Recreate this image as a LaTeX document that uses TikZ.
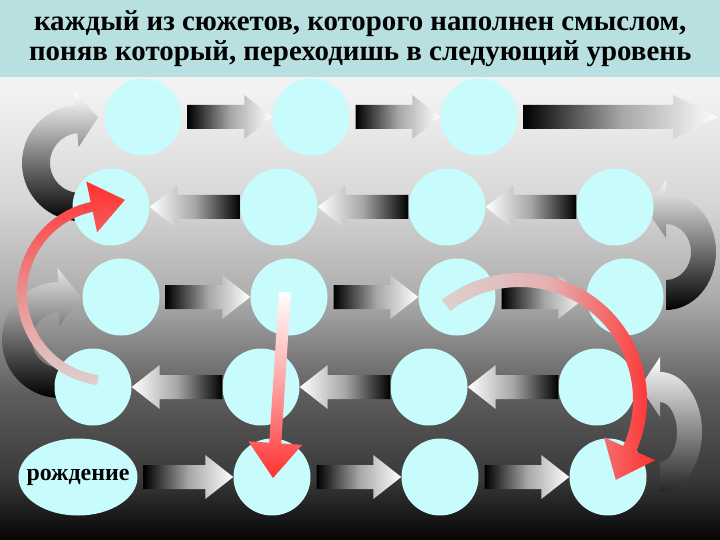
\documentclass[tikz,border=0pt]{standalone}
\usepackage{fontspec}
\setmainfont{Liberation Serif}
\usetikzlibrary{calc,shapes.geometric}
\definecolor{bannerteal}{RGB}{184,224,225}
\definecolor{discfill}{RGB}{200,252,252}
\definecolor{hotred}{RGB}{255,48,48}
\definecolor{palepink}{RGB}{222,208,208}
\pgfdeclareverticalshading{bgfade}{100bp}{color(0bp)=(black!98); color(25bp)=(black!98); color(27bp)=(black!92); color(31.5bp)=(black!78); color(41bp)=(black!63); color(51bp)=(black!33); color(61.5bp)=(black!16); color(73.5bp)=(black!5); color(100bp)=(black!4)}
\tikzset{
    disc/.style = {circle, fill=discfill, minimum size=77bp, inner sep=0pt},
    startoval/.style = {ellipse, fill=discfill, minimum width=119bp, minimum height=77bp, inner sep=0pt},
    bigtext/.style = {font=\bfseries\fontsize{29}{30}\selectfont},
    smalltext/.style = {font=\bfseries\fontsize{24}{28}\selectfont},
    banner/.style = {rectangle, fill=bannerteal, minimum width=720bp, minimum height=77bp, align=center, inner sep=0pt},
    flowr/.style = {left color=black, right color=white, middle color=black!35},
    flowl/.style = {left color=white, right color=black, middle color=black!35},
    redarc/.style = {top color=hotred, bottom color=palepink, middle color=hotred!45!palepink}
}
\newcommand{\flowright}[3][28bp]{%
    \shade[flowr] let \p1=(#2), \p2=(#3) in
        (\x1+6bp,\y1+12bp) -- (\x2-#1,\y1+12bp) -- (\x2-#1,\y1+22bp) -- (\x2,\y1)
        -- (\x2-#1,\y1-22bp) -- (\x2-#1,\y1-12bp) -- (\x1+6bp,\y1-12bp) -- cycle;}
\newcommand{\flowleft}[3][28bp]{%
    \shade[flowl] let \p1=(#2), \p2=(#3) in
        (\x1,\y1+12bp) -- (\x2+#1,\y1+12bp) -- (\x2+#1,\y1+22bp) -- (\x2,\y1)
        -- (\x2+#1,\y1-22bp) -- (\x2+#1,\y1-12bp) -- (\x1,\y1-12bp) -- cycle;}
\begin{document}
\begin{tikzpicture}[x=1bp, y=-1bp, node distance=168bp]
        \useasboundingbox (0,0) rectangle (720,540);
        \shade[shading=bgfade] (0,77) rectangle (720,540);
        \node [banner, bigtext, anchor=north west] (title) at (0,0) {каждый из сюжетов, которого наполнен смыслом,\\ поняв который, переходишь в следующий уровень};
        % return loops
        \coordinate (la) at (80,163);
        \coordinate (lb) at (60,340);
        \coordinate (lc) at (666,252);
        \coordinate (ld) at (660,432);
        \shade[top color=white, bottom color=black] ($(la)+(95:58)$) arc[start angle=95, end angle=265, radius=58] -- ($(la)+(265:72)$) -- ($(la)+(265:44)+(355:22)$) -- ($(la)+(265:16)$) -- ($(la)+(265:30)$) arc[start angle=265, end angle=95, radius=30] -- cycle;
        \shade[top color=black!10, bottom color=black] ($(lb)+(92:58)$) arc[start angle=92, end angle=268, radius=58] -- ($(lb)+(268:72)$) -- ($(lb)+(268:43)+(358:22)$) -- ($(lb)+(268:14)$) -- ($(lb)+(268:28)$) arc[start angle=268, end angle=92, radius=28] -- cycle;
        \shade[top color=black!4, bottom color=black] ($(lc)+(0,58)$) arc[start angle=90, end angle=-90, x radius=50, y radius=58] -- ($(lc)+(0,-72)$) -- ($(lc)+(-20,-43)$) -- ($(lc)+(0,-14)$) -- ($(lc)+(0,-28)$) arc[start angle=-90, end angle=90, x radius=25, y radius=28] -- cycle;
        \shade[top color=white, bottom color=black!85] ($(ld)+(0,60)$) arc[start angle=90, end angle=-90, x radius=42, y radius=60] -- ($(ld)+(0,-75)$) -- ($(ld)+(-20,-45)$) -- ($(ld)+(0,-15)$) -- ($(ld)+(0,-30)$) arc[start angle=-90, end angle=90, x radius=17, y radius=30] -- cycle;
        % levels
        \node [disc] (c11) at (143,117) {};
        \node [disc, right of=c11] (c12) {};
        \node [disc, right of=c12] (c13) {};
        \coordinate (r1end) at (718,117);
        \node [disc] (c21) at (111,207) {};
        \node [disc, right of=c21] (c22) {};
        \node [disc, right of=c22] (c23) {};
        \node [disc, right of=c23] (c24) {};
        \node [disc] (c31) at (121,297) {};
        \node [disc, right of=c31] (c32) {};
        \node [disc, right of=c32] (c33) {};
        \node [disc, right of=c33] (c34) {};
        \node [disc] (c41) at (93,387) {};
        \node [disc, right of=c41] (c42) {};
        \node [disc, right of=c42] (c43) {};
        \node [disc, right of=c43] (c44) {};
        \node [startoval, label={[smalltext]center:рождение}] (c51) at (78,477) {};
        \node [disc, right of=c51, node distance=194bp] (c52) {};
        \node [disc, right of=c52] (c53) {};
        \node [disc, right of=c53] (c54) {};
        \flowright{c11.east}{c12.west}
        \flowright{c12.east}{c13.west}
        \flowright[45bp]{c13.east}{r1end}
        \flowleft{c22.west}{c21.east}
        \flowleft{c23.west}{c22.east}
        \flowleft{c24.west}{c23.east}
        \flowright{c31.east}{c32.west}
        \flowright{c32.east}{c33.west}
        \flowright{c33.east}{c34.west}
        \flowleft{c42.west}{c41.east}
        \flowleft{c43.west}{c42.east}
        \flowleft{c44.west}{c43.east}
        \flowright{c51.east}{c52.west}
        \flowright{c52.east}{c53.west}
        \flowright{c53.east}{c54.west}
        % jumps
        \coordinate (rc1) at (110,293);
        \shade[redarc] ($(rc1)+(98:93)$) arc[start angle=98, end angle=258, radius=93] -- ($(rc1)+(258:114)$) -- ($(rc1)+(258:88)+(348:34)$) -- ($(rc1)+(258:62)$) -- ($(rc1)+(258:83)$) arc[start angle=258, end angle=98, radius=83] -- cycle;
        \coordinate (dtop) at (285,292);
        \coordinate (dtip) at (273,478);
        \coordinate (dbase) at ($(dtip)!35bp!(dtop)$);
        \shade[top color=white, bottom color=hotred, middle color=hotred!45!white] ($(dtop)!6bp!90:(dtip)$) -- ($(dbase)!6bp!90:(dtip)$) -- ($(dbase)!27bp!90:(dtip)$) -- (dtip) -- ($(dbase)!27bp!-90:(dtip)$) -- ($(dbase)!6bp!-90:(dtip)$) -- ($(dtop)!6bp!-90:(dtip)$) -- cycle;
        \coordinate (rc3) at (520,400);
        \shade[left color=palepink, right color=hotred, middle color=hotred!20!palepink] ($(rc3)+(232:127)$) arc[start angle=232, end angle=384, radius=127] -- ($(rc3)+(384:148)$) -- ($(rc3)+(384:120)+(114:34)$) -- ($(rc3)+(384:92)$) -- ($(rc3)+(384:113)$) arc[start angle=384, end angle=232, radius=113] -- cycle;
\end{tikzpicture}
\end{document}
